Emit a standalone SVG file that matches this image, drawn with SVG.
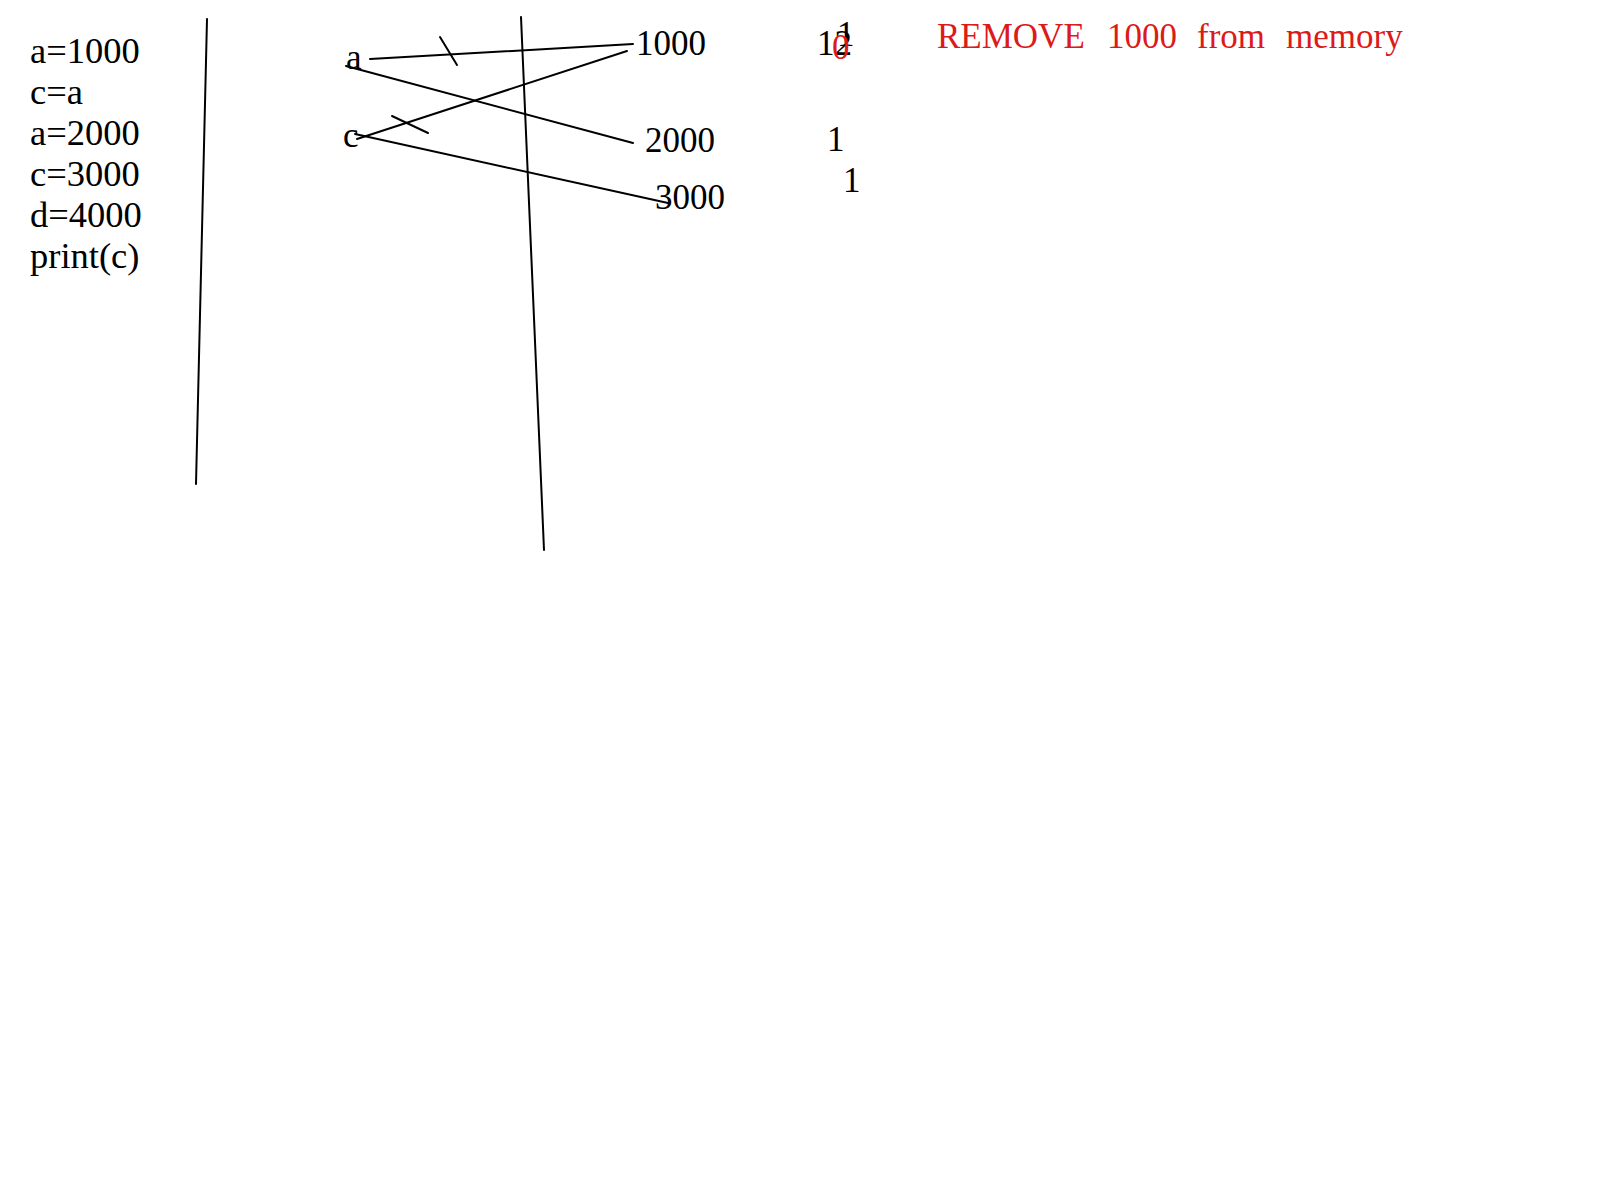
<svg xmlns="http://www.w3.org/2000/svg" width="1600" height="1200" viewBox="0 0 1600 1200">
<style>
text{font-family:"Liberation Serif","Times New Roman",serif;font-size:35px;fill:#000}
.code{font-size:36.5px}
.red{fill:#dc1a1a}
line{stroke:#000;stroke-width:2;stroke-linecap:round}
</style>
<rect width="1600" height="1200" fill="#fff"/>
<g id="code">
<text class="code" x="30" y="63">a=1000</text>
<text class="code" x="30" y="104">c=a</text>
<text class="code" x="30" y="145">a=2000</text>
<text class="code" x="30" y="186">c=3000</text>
<text class="code" x="30" y="227">d=4000</text>
<text class="code" x="30" y="268">print(c)</text>
</g>
<g id="dividers">
<line x1="207" y1="19" x2="196" y2="484"/>
<line x1="521" y1="17" x2="544" y2="550"/>
</g>
<g id="var-a"><text x="346" y="69">a</text></g>
<g id="var-c"><text x="343" y="147">c</text></g>
<g id="obj-1000"><text x="636" y="55">1000</text></g>
<g id="obj-2000"><text x="645" y="152">2000</text></g>
<g id="obj-3000"><text x="655" y="209">3000</text></g>
<g id="refcounts">
<text x="817" y="55">12</text>
<text x="837" y="46">1</text>
<text class="red" x="832" y="59">0</text>
<text x="827" y="151">1</text>
<text x="843" y="192">1</text>
</g>
<g id="note">
<text class="red" x="937" y="48">REMOVE</text>
<text class="red" x="1107" y="48">1000</text>
<text class="red" x="1197" y="48">from</text>
<text class="red" x="1286" y="48">memory</text>
</g>
<g id="connectors">
<line x1="370" y1="59" x2="633" y2="44"/>
<line x1="440" y1="37" x2="457" y2="65"/>
<line x1="346" y1="66" x2="633" y2="143"/>
<line x1="627" y1="51" x2="357" y2="139"/>
<line x1="392" y1="116" x2="428" y2="133"/>
<line x1="355" y1="134" x2="668" y2="203"/>
</g>
</svg>
